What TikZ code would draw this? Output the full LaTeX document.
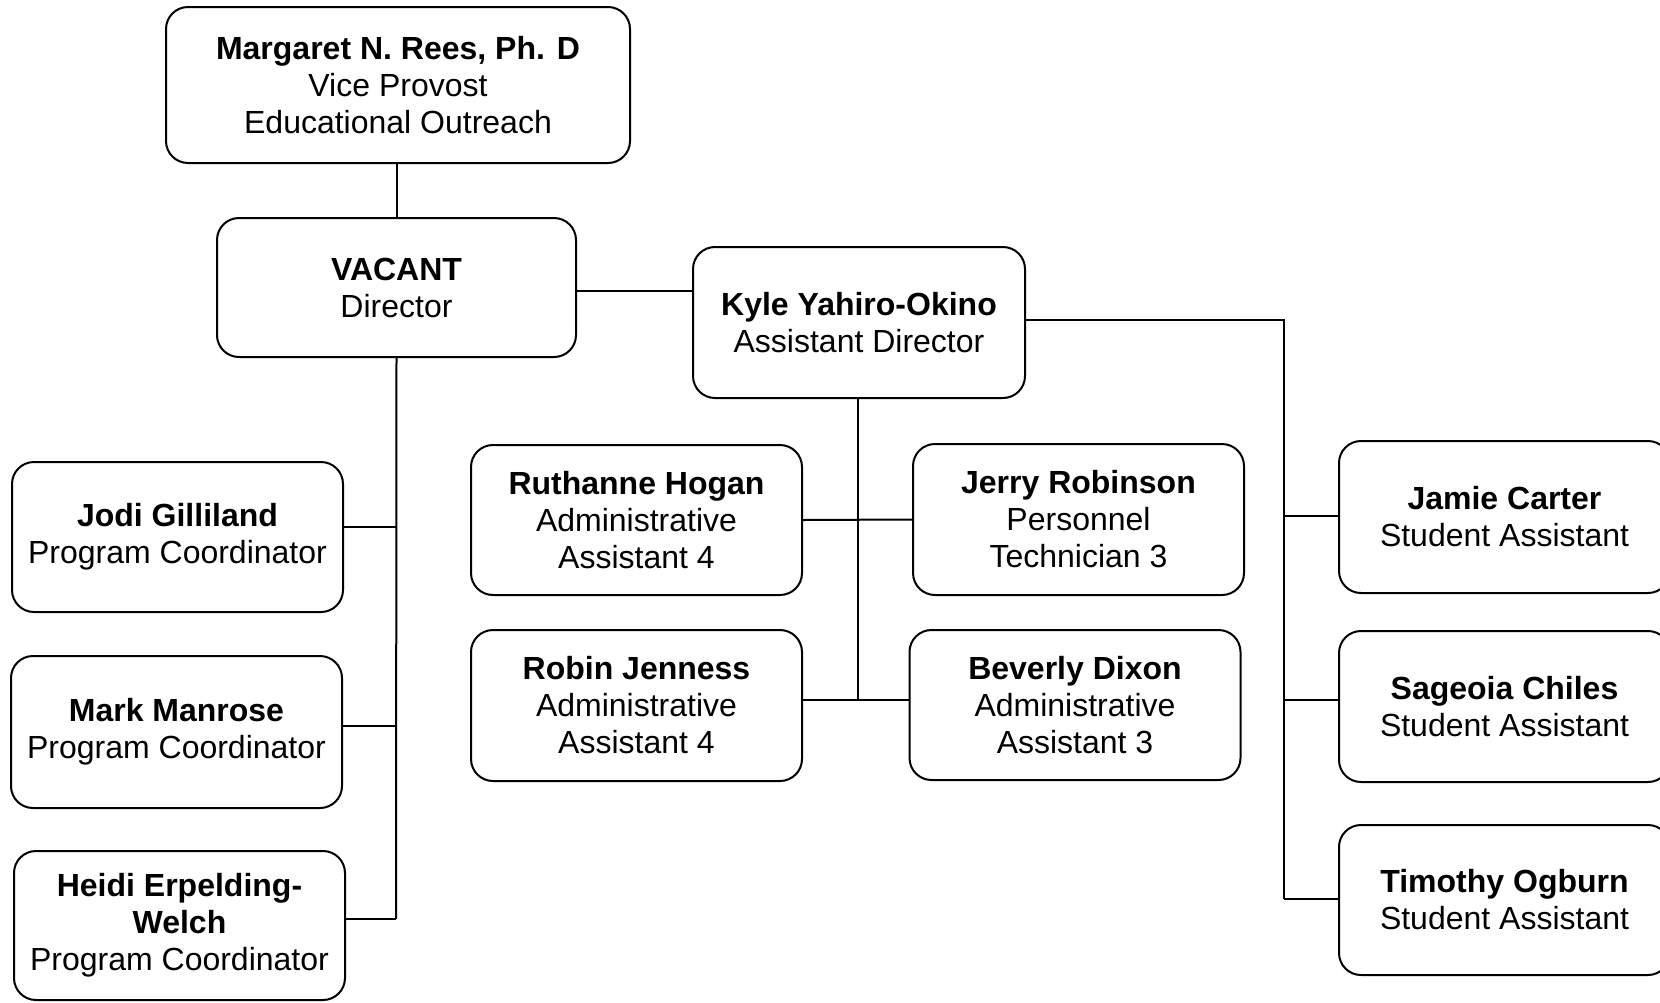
\documentclass[tikz,border=0pt]{standalone}
\usepackage{fontspec}
\setmainfont{Liberation Sans}
\usetikzlibrary{calc}
\tikzset{
  box/.style={draw, rounded corners=11pt, line width=1pt, align=center, inner sep=0pt,
    minimum width=165.5pt, minimum height=75pt,
    font=\fontsize{16}{18.5}\selectfont},
  link/.style={line width=1pt}
}
\begin{document}
\begin{tikzpicture}[x=0.5pt,y=-0.5pt]
\useasboundingbox (0,0) rectangle (1660,1002);
% nodes
\node[box, minimum width=232pt, minimum height=78pt] (mr) at (398,85) {\textbf{Margaret N. Rees, Ph. D}\\Vice Provost\\Educational Outreach};
\node[box, minimum width=179.5pt, minimum height=69.5pt] (vac) at (396.5,287.5) {\textbf{VACANT}\\Director};
\node[box, minimum width=166pt, minimum height=75.5pt] (kyle) at (859,322.5) {\textbf{Kyle Yahiro-Okino}\\Assistant Director};
\node[box] (jodi) at (177.5,537) {\textbf{Jodi Gilliland}\\Program Coordinator};
\node[box, minimum height=76pt] (mark) at (176.5,732) {\textbf{Mark Manrose}\\Program Coordinator};
\node[box, minimum height=74.5pt] (heidi) at (179.5,925.5) {\textbf{Heidi Erpelding-}\\\textbf{Welch}\\Program Coordinator};
\node[box] (ruth) at (636.5,520) {\textbf{Ruthanne Hogan}\\Administrative\\Assistant 4};
\node[box, minimum height=75.5pt] (jerry) at (1078.5,519.5) {\textbf{Jerry Robinson}\\Personnel\\Technician 3};
\node[box, minimum height=75.5pt] (robin) at (636.5,705.5) {\textbf{Robin Jenness}\\Administrative\\Assistant 4};
\node[box] (bev) at (1075,705) {\textbf{Beverly Dixon}\\Administrative\\Assistant 3};
\node[box, minimum height=76pt] (jamie) at (1504.5,517) {\textbf{Jamie Carter}\\Student Assistant};
\node[box, minimum height=75.5pt] (sage) at (1504.5,706.5) {\textbf{Sageoia Chiles}\\Student Assistant};
\node[box] (tim) at (1504.5,900) {\textbf{Timothy Ogburn}\\Student Assistant};
% helper coordinates
\coordinate (vtrunk) at (396,919);
\coordinate (ktrunk) at (858,700);
\coordinate (scorner) at (1284,320);
\coordinate (sbottom) at (1284,899);
% connectors
\draw[link] (vac.north) -- (vac.north |- mr.south);
\draw[link] ([yshift=-1.75pt]vac.east) -- ([yshift=-1.75pt]vac.east -| kyle.west);
\draw[link] (vac.south) -- (vtrunk);
\draw[link] ([yshift=5pt]jodi.east) -- ([yshift=5pt]jodi.east -| vtrunk);
\draw[link] ([yshift=3pt]mark.east) -- ([yshift=3pt]mark.east -| vtrunk);
\draw[link] ([yshift=3.25pt]heidi.east) -- (vtrunk);
\draw[link] (kyle.south -| ktrunk) -- (ktrunk);
\draw[link] (ruth.east) -- (jerry.west);
\draw[link] ([yshift=2.75pt]robin.east) -- ([yshift=2.75pt]robin.east -| bev.west);
\draw[link] (kyle.east |- scorner) -- (scorner) -- (sbottom);
\draw[link] ([yshift=0.75pt]jamie.west) -- ([yshift=0.75pt]jamie.west -| scorner);
\draw[link] ([yshift=3.25pt]sage.west) -- ([yshift=3.25pt]sage.west -| scorner);
\draw[link] ([yshift=0.5pt]tim.west) -- (sbottom);
\end{tikzpicture}
\end{document}
